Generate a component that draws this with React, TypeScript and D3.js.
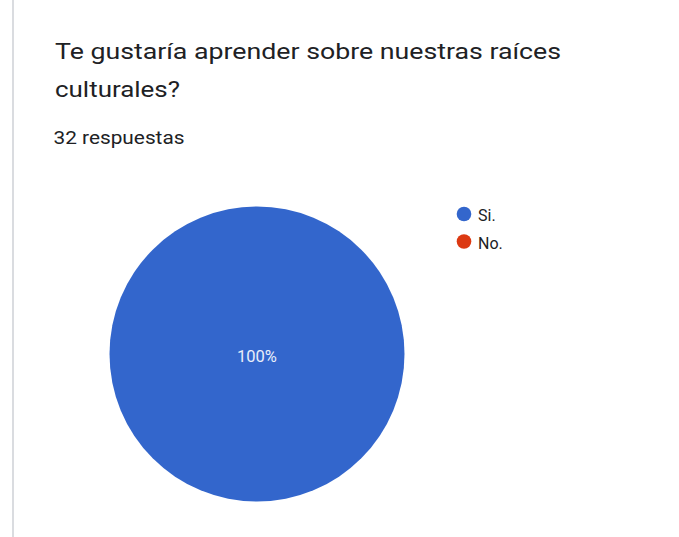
import React from "react";
import * as d3 from "d3";

const categories = ["Si.", "No."];
const values = [32, 0];
const colors = ["#3366cc", "#dc3912"];
const titleLines = ["Te gustaría aprender sobre nuestras raíces", "culturales?"];
const titleLengths = [506, 125];
const subtitle = "32 respuestas";

export default function App() {
  const W = 679, H = 537;
  const cx = 257, cy = 354, r = 147.5;
  const total = d3.sum(values);
  const pie = d3.pie<number>().sort(null).value((d) => d);
  const arcs = pie(values);
  const arcGen = d3.arc<d3.PieArcDatum<number>>().innerRadius(0).outerRadius(r);
  return (
    <svg width={W} height={H} style={{ position: "absolute", left: 0, top: 0, background: "#fff" }}>
      <rect x={0} y={0} width={W} height={H} fill="#fff" />
      <line x1={13} y1={0} x2={13} y2={H} stroke="#dadce0" strokeWidth={2} />
      {titleLines.map((t, i) => (
        <text key={i} x={55} y={58.5 + i * 38.5} fontFamily="Roboto" fontSize={22.5}
          fill="#202124" textLength={titleLengths[i]} lengthAdjust="spacingAndGlyphs">{t}</text>
      ))}
      <text x={53.5} y={143.5} fontFamily="Roboto" fontSize={18} fill="#202124"
        textLength={131} lengthAdjust="spacingAndGlyphs">{subtitle}</text>
      <g transform={`translate(${cx},${cy})`}>
        {arcs.map((a, i) =>
          a.value > 0 ? (
            a.endAngle - a.startAngle >= 2 * Math.PI - 1e-6 ? (
              <circle key={i} r={r} fill={colors[i]} />
            ) : (
              <path key={i} d={arcGen(a) || ""} fill={colors[i]} />
            )
          ) : null
        )}
        {arcs.map((a, i) => {
          if (a.value <= 0) return null;
          const pct = Math.round((a.value / total) * 100) + "%";
          const full = a.endAngle - a.startAngle >= 2 * Math.PI - 1e-6;
          const [lx, ly] = full ? [0, 0] : d3.arc().innerRadius(0).outerRadius(r * 1.2).centroid(a as any);
          return (
            <text key={"l" + i} x={lx} y={ly + 8} textAnchor="middle" fontFamily="Roboto" fontSize={16.5} fill="#e8eefa">{pct}</text>
          );
        })}
      </g>
      {categories.map((c, i) => (
        <g key={c} transform={`translate(464,${214 + i * 27.5})`}>
          <circle r={7.3} fill={colors[i]} />
          <text x={14} y={7} fontFamily="Roboto" fontSize={16} fill="#202124">{c}</text>
        </g>
      ))}
    </svg>
  );
}
